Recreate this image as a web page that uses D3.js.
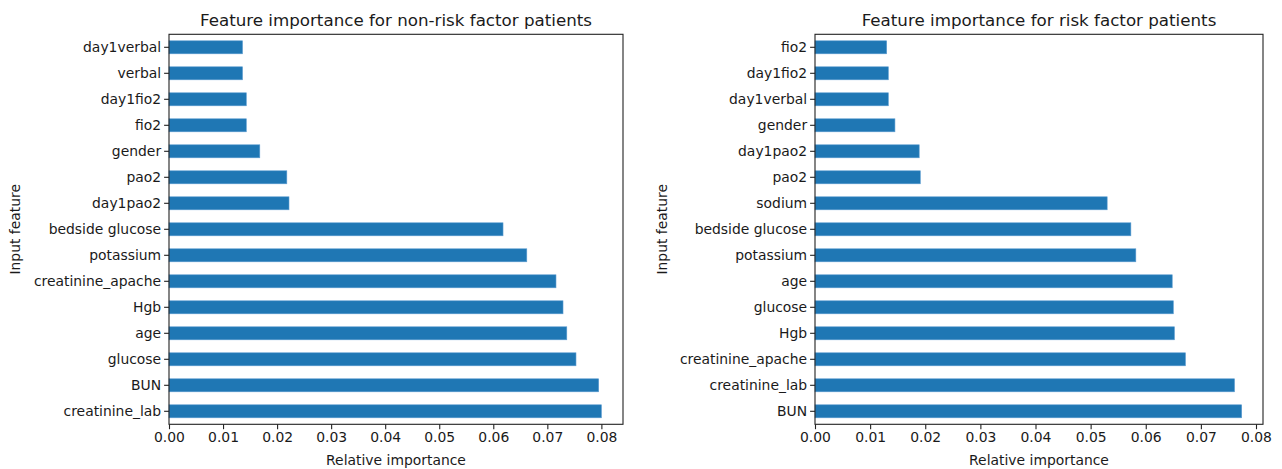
<!DOCTYPE html>
<html>
<head>
<meta charset="utf-8">
<script src="https://cdn.jsdelivr.net/npm/d3@7"></script>
<style>
  html, body { margin: 0; padding: 0; background: #fff; }
  svg { display: block; }
  text { font-family: "DejaVu Sans", sans-serif; fill: #1a1a1a; }
</style>
</head>
<body>
<svg id="chart" width="1282" height="469"></svg>
<script>
// Feature importances, listed top to bottom as drawn
const nonRiskFeatures = ["day1verbal", "verbal", "day1fio2", "fio2", "gender", "pao2", "day1pao2",
  "bedside glucose", "potassium", "creatinine_apache", "Hgb", "age", "glucose", "BUN", "creatinine_lab"];
const nonRiskImportance = [0.0136, 0.0136, 0.0143, 0.0143, 0.0168, 0.0218, 0.0222,
  0.0618, 0.0662, 0.0716, 0.0729, 0.0736, 0.0753, 0.0795, 0.0800];

const riskFeatures = ["fio2", "day1fio2", "day1verbal", "gender", "day1pao2", "pao2", "sodium",
  "bedside glucose", "potassium", "age", "glucose", "Hgb", "creatinine_apache", "creatinine_lab", "BUN"];
const riskImportance = [0.0130, 0.0133, 0.0133, 0.0145, 0.0189, 0.0191, 0.0530,
  0.0573, 0.0582, 0.0648, 0.0650, 0.0652, 0.0672, 0.0761, 0.0774];

const xTickValues = [0, 0.01, 0.02, 0.03, 0.04, 0.05, 0.06, 0.07, 0.08];

const panels = [
  { title: "Feature importance for non-risk factor patients", features: nonRiskFeatures, values: nonRiskImportance,
    left: 169, right: 623, ylabelX: 15 },
  { title: "Feature importance for risk factor patients", features: riskFeatures, values: riskImportance,
    left: 815, right: 1263, ylabelX: 662 }
];

const plotTop = 34.3, plotBottom = 424.3;
const tickLen = 4.9, tickPad = 3;
const barColor = "#1f77b4";

const svg = d3.select("#chart");

panels.forEach(p => {
  const g = svg.append("g");
  const maxV = d3.max(p.values);
  const x = d3.scaleLinear().domain([0, maxV * 1.05]).range([p.left, p.right]);
  const y = d3.scaleBand().domain(p.features).range([plotTop, plotBottom]).paddingInner(0.5).paddingOuter(0.25);

  // bars
  g.selectAll("rect.bar")
    .data(p.features.map((f, i) => ({ f, v: p.values[i] })))
    .join("rect")
    .attr("class", "bar")
    .attr("x", x(0))
    .attr("y", d => y(d.f))
    .attr("width", d => x(d.v) - x(0))
    .attr("height", y.bandwidth())
    .attr("fill", barColor)
    .attr("stroke", "#5b9bd0")
    .attr("stroke-width", 0.6);

  // x axis
  const xAxis = d3.axisBottom(x).tickValues(xTickValues).tickFormat(d3.format(".2f"))
    .tickSize(tickLen).tickPadding(tickPad);
  const gx = g.append("g").attr("transform", `translate(0,${plotBottom})`).call(xAxis);
  gx.select(".domain").remove();
  gx.selectAll(".tick line").attr("stroke", "#222").attr("stroke-width", 1.1);
  gx.selectAll(".tick text").attr("font-size", 13.9).attr("fill", "#1a1a1a")
    .attr("font-family", "DejaVu Sans, sans-serif");

  // y axis
  const yAxis = d3.axisLeft(y).tickSize(tickLen).tickPadding(tickPad);
  const gy = g.append("g").attr("transform", `translate(${p.left},0)`).call(yAxis);
  gy.select(".domain").remove();
  gy.selectAll(".tick line").attr("stroke", "#222").attr("stroke-width", 1.1);
  gy.selectAll(".tick text").attr("font-size", 13.9).attr("fill", "#1a1a1a")
    .attr("font-family", "DejaVu Sans, sans-serif");

  // frame
  g.append("rect")
    .attr("x", p.left).attr("y", plotTop)
    .attr("width", p.right - p.left).attr("height", plotBottom - plotTop)
    .attr("fill", "none").attr("stroke", "#222").attr("stroke-width", 1.1);

  // title
  g.append("text")
    .attr("x", (p.left + p.right) / 2).attr("y", plotTop - 8)
    .attr("text-anchor", "middle").attr("font-size", 16.7)
    .text(p.title);

  // axis labels
  g.append("text")
    .attr("x", (p.left + p.right) / 2).attr("y", 465)
    .attr("text-anchor", "middle").attr("font-size", 13.9)
    .text("Relative importance");

  g.append("text")
    .attr("transform", `translate(${p.ylabelX},${(plotTop + plotBottom) / 2}) rotate(-90)`)
    .attr("text-anchor", "middle").attr("dy", "0.35em").attr("font-size", 13.9)
    .text("Input feature");
});
</script>
</body>
</html>
